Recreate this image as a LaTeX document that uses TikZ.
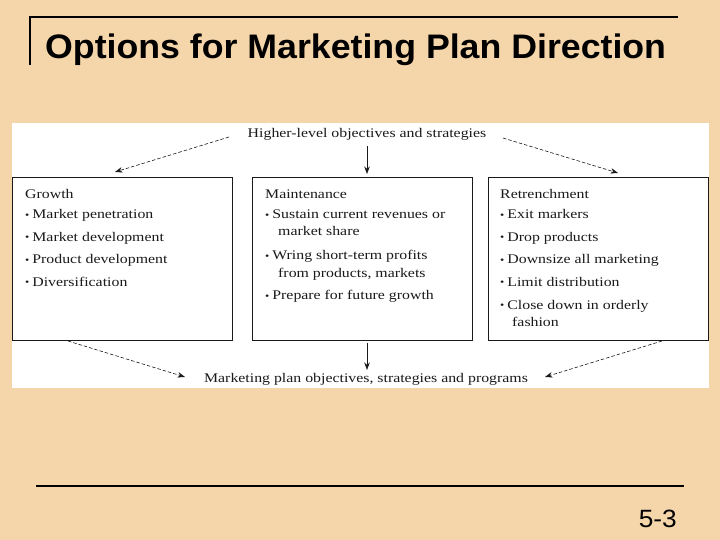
\documentclass[tikz,border=0pt]{standalone}
\usepackage{fontspec}
\setmainfont{Liberation Serif}
\newfontfamily\bodyfont[FakeStretch=1.2]{Liberation Serif}
\newfontfamily\titlefont[FakeStretch=1.05]{Liberation Sans}
\usetikzlibrary{arrows.meta}
\definecolor{bgpeach}{HTML}{F5D6AA}
\definecolor{ink}{HTML}{1A1A1A}
\newcommand\bul{{\fontsize{10}{10}\selectfont\raisebox{0.3pt}{•}}\hspace{3pt}}
\tikzset{
  txt/.style={font=\bodyfont\fontsize{13.2}{15}\selectfont, anchor=base west, inner sep=0pt, text=ink},
  boxnode/.style={draw=ink, line width=0.8pt, fill=white, anchor=north west, minimum width=220pt, minimum height=163pt, inner sep=0pt},
  arr/.style={-{Stealth[length=7.5pt,width=5.5pt]}, line width=0.6pt, draw=ink},
  dsh/.style={arr, dash pattern=on 3.5pt off 2pt},
  rule/.style={line width=2pt, draw=black}
}
\begin{document}
\begin{tikzpicture}[x=1pt,y=-1pt]
\path[use as bounding box, fill=bgpeach] (0,0) rectangle (720,540);
% title rules
\coordinate (tl) at (29.5,17.5);
\coordinate (tr) at (678,17.5);
\coordinate (tb) at (29.5,65);
\draw[rule] (tr) -- (tl) -- (tb);
\node[anchor=base west, inner sep=0pt, font=\titlefont\bfseries\fontsize{34}{40}\selectfont] (title) at (45,58.5) {Options for Marketing Plan Direction};
% bottom rule and page number
\coordinate (bl) at (36,485.5);
\coordinate (br) at (684,485.5);
\draw[rule] (bl) -- (br);
\node[anchor=base east, inner sep=0pt, font=\titlefont\fontsize{25}{30}\selectfont] (pg) at (677,527) {5-3};
% white panel
\node[fill=white, anchor=north west, minimum width=697pt, minimum height=265pt, inner sep=0pt] (panel) at (12,123) {};
% boxes
\node[boxnode] (g) at (12,177) {};
\node[boxnode] (m) at (252,177) {};
\node[boxnode] (r) at (487.5,177) {};
% top and bottom labels
\node[txt, anchor=base] (hi) at (367,137.5) {Higher-level objectives and strategies};
\node[txt, anchor=base] (lo) at (366,382.5) {Marketing plan objectives, strategies and programs};
% growth
\node[txt] (g0) at (25,199) {Growth};
\node[txt] (g1) at (25,218.5) {\bul Market penetration};
\node[txt] (g2) at (25,241) {\bul Market development};
\node[txt] (g3) at (25,263.5) {\bul Product development};
\node[txt] (g4) at (25,286) {\bul Diversification};
% maintenance
\node[txt] (m0) at (265,199) {Maintenance};
\node[txt] (m1) at (265,218.5) {\bul Sustain current revenues or};
\node[txt] (m2) at (278,236) {market share};
\node[txt] (m3) at (265,259.5) {\bul Wring short-term profits};
\node[txt] (m4) at (278,277) {from products, markets};
\node[txt] (m5) at (265,299.5) {\bul Prepare for future growth};
% retrenchment
\node[txt] (r0) at (500,199) {Retrenchment};
\node[txt] (r1) at (500,218.5) {\bul Exit markers};
\node[txt] (r2) at (500,241) {\bul Drop products};
\node[txt] (r3) at (500,263.5) {\bul Downsize all marketing};
\node[txt] (r4) at (500,286) {\bul Limit distribution};
\node[txt] (r5) at (500,309) {\bul Close down in orderly};
\node[txt] (r6) at (512,326) {fashion};
% arrow end points
\coordinate (a1s) at (229,137);
\coordinate (a1e) at (115,172);
\coordinate (a2s) at (367,146);
\coordinate (a2e) at (367,174);
\coordinate (a3s) at (503,138);
\coordinate (a3e) at (618,173);
\coordinate (b1s) at (68,341);
\coordinate (b1e) at (185,377);
\coordinate (b2s) at (367,343);
\coordinate (b2e) at (367,370);
\coordinate (b3s) at (662,341);
\coordinate (b3e) at (545,377);
\draw[dsh] (a1s) -- (a1e);
\draw[arr] (a2s) -- (a2e);
\draw[dsh] (a3s) -- (a3e);
\draw[dsh] (b1s) -- (b1e);
\draw[arr] (b2s) -- (b2e);
\draw[dsh] (b3s) -- (b3e);
\end{tikzpicture}
\end{document}
